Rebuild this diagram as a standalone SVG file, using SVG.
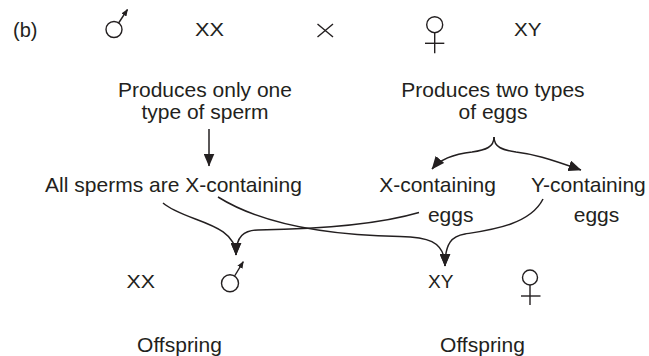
<svg xmlns="http://www.w3.org/2000/svg" width="649" height="356" viewBox="0 0 649 356">
<style>
text{font-family:"Liberation Sans",Arial,sans-serif;font-size:21px;fill:#231f20}
.m{text-anchor:middle}
.g{font-size:18px}
.s{fill:none;stroke:#231f20;stroke-width:1.4}
.c{fill:none;stroke:#231f20;stroke-width:1.5}
</style>
<defs>
<marker id="ah" markerUnits="userSpaceOnUse" markerWidth="13" markerHeight="11" viewBox="0 0 13 11" refX="12.5" refY="5.5" orient="auto">
<path d="M0,0 L13,5.5 L0,11 z" fill="#231f20"/>
</marker>
<marker id="sm" markerUnits="userSpaceOnUse" markerWidth="7" markerHeight="6" viewBox="0 0 7 6" refX="6.5" refY="3" orient="auto">
<path d="M0,0 L7,3 L0,6 z" fill="#231f20"/>
</marker>
</defs>
<rect width="649" height="356" fill="#fff"/>

<g id="label-b"><text x="13" y="37" style="font-size:20px">(b)</text></g>

<g id="male-parent">
<circle class="s" cx="114" cy="29.5" r="8"/>
<line class="s" x1="118.6" y1="23" x2="127.5" y2="9.5" marker-end="url(#sm)"/>
</g>
<g id="male-genotype"><text class="g" x="195" y="36" textLength="29" lengthAdjust="spacingAndGlyphs">XX</text></g>
<g id="cross">
<line class="s" x1="317.5" y1="24" x2="333" y2="37"/>
<line class="s" x1="333" y1="24" x2="317.5" y2="37"/>
</g>
<g id="female-parent">
<circle class="s" cx="434.7" cy="24.7" r="8"/>
<line class="s" x1="434.7" y1="32.7" x2="434.7" y2="53.3"/>
<line class="s" x1="425" y1="43.3" x2="444.3" y2="43.3"/>
</g>
<g id="female-genotype"><text class="g" x="514" y="36" textLength="27.5" lengthAdjust="spacingAndGlyphs">XY</text></g>

<g id="male-gametes-note">
<text class="m" x="205" y="97">Produces only one</text>
<text class="m" x="205" y="119">type of sperm</text>
</g>
<g id="female-gametes-note">
<text class="m" x="493" y="97">Produces two types</text>
<text class="m" x="493" y="119">of eggs</text>
</g>

<g id="sperms"><text class="m" x="173.5" y="192">All sperms are X-containing</text></g>
<g id="x-eggs">
<text class="m" x="437.5" y="192">X-containing</text>
<text class="m" x="450.7" y="222">eggs</text>
</g>
<g id="y-eggs">
<text class="m" x="588.4" y="192">Y-containing</text>
<text class="m" x="596.5" y="222">eggs</text>
</g>

<g id="offspring-male">
<text class="g" x="126.5" y="288" textLength="28.5" lengthAdjust="spacingAndGlyphs">XX</text>
<circle class="s" cx="230" cy="283.3" r="8.5"/>
<line class="s" x1="234.6" y1="276" x2="243.3" y2="261.7" marker-end="url(#sm)"/>
<text class="m" x="179.5" y="352">Offspring</text>
</g>
<g id="offspring-female">
<text class="g" x="428" y="288" textLength="25.5" lengthAdjust="spacingAndGlyphs">XY</text>
<circle class="s" cx="530" cy="277.5" r="7.5"/>
<line class="s" x1="530" y1="285" x2="530" y2="305"/>
<line class="s" x1="521" y1="296" x2="540.5" y2="296"/>
<text class="m" x="482.5" y="352">Offspring</text>
</g>

<g id="connectors">
<line class="c" x1="209" y1="129" x2="209" y2="166" marker-end="url(#ah)"/>
<path class="c" d="M494,137 C494,147 486,150 472,152 C455,154 441,158 432,169" marker-end="url(#ah)"/>
<path class="c" d="M494,137 C494,147 502,150 516,152 C533,154 547,158 581,170" marker-end="url(#ah)"/>
<path class="c" d="M163,203 C185,222 236,222 236,255" marker-end="url(#ah)"/>
<path class="c" d="M419,212.5 C380,224 320,229 258,230 C244,230.5 236,236 236,255" marker-end="url(#ah)"/>
<path class="c" d="M218,197 C255,220 310,235 400,236.5 C425,237 445,240 445,266" marker-end="url(#ah)"/>
<path class="c" d="M543,199 C530,225 490,230 465,234 C452,236 445,243 445,266" marker-end="url(#ah)"/>
</g>
</svg>
